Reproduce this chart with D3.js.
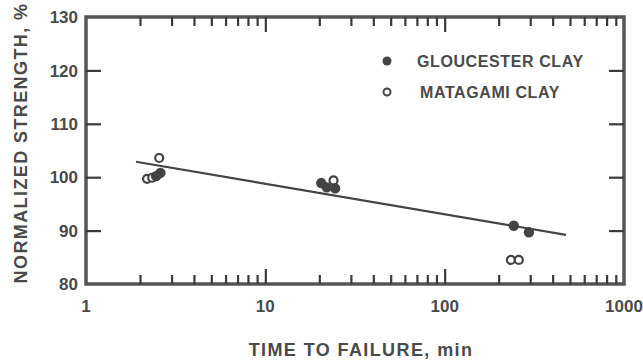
<!DOCTYPE html>
<html>
<head>
<meta charset="utf-8">
<script src="https://cdn.jsdelivr.net/npm/d3@7"></script>
<style>
  body { margin: 0; background: #fff; }
  text { font-family: "Liberation Sans", Arial, sans-serif; font-weight: bold; fill: #4a4a4a; }
</style>
</head>
<body>
<div id="chart"></div>
<script>
// time to failure (min) and normalized strength (%)
const glouTime = [2.46, 2.6, 20.5, 22, 24.5, 243, 295];
const glouStrength = [100.2, 100.8, 98.9, 98.1, 97.9, 90.9, 89.7];
const mataTime = [2.19, 2.34, 2.56, 24, 234, 259];
const mataStrength = [99.7, 99.9, 103.6, 99.4, 84.5, 84.5];
// fitted trend line end points
const fitTime = [1.9, 475];
const fitStrength = [102.9, 89.2];

const yTicks = [80, 90, 100, 110, 120, 130];
const xTicks = [1, 10, 100, 1000];
const minorTicks = [2, 3, 4, 5, 6, 7, 8, 9, 20, 30, 40, 50, 60, 70, 80, 90, 200, 300, 400, 500, 600, 700, 800, 900];
const majorTicks = [10, 100];

const W = 643, H = 363;
const margin = { top: 17, right: 19, bottom: 79, left: 86 };
const ink = "#444";

const svg = d3.select("#chart").append("svg")
    .attr("width", W)
    .attr("height", H);

const x = d3.scaleLog()
    .domain([1, 1000])
    .range([margin.left, W - margin.right]);

const y = d3.scaleLinear()
    .domain([80, 130])
    .range([H - margin.bottom, margin.top]);

// frame
svg.append("rect")
    .attr("x", x(1))
    .attr("y", y(130))
    .attr("width", x(1000) - x(1))
    .attr("height", y(80) - y(130))
    .attr("fill", "none")
    .attr("stroke", "#555")
    .attr("stroke-width", 3.5);

// inside ticks: minor + major on the log axis (top and bottom), majors on y (both sides)
const topAxis = d3.axisBottom(x).tickValues(minorTicks).tickSize(9).tickFormat("");
const botAxis = d3.axisTop(x).tickValues(minorTicks).tickSize(9).tickFormat("");
const topMajor = d3.axisBottom(x).tickValues(majorTicks).tickSize(15).tickFormat("");
const botMajor = d3.axisTop(x).tickValues(majorTicks).tickSize(15).tickFormat("");
const leftAxis = d3.axisRight(y).tickValues([90, 100, 110, 120]).tickSize(15).tickFormat("");
const rightAxis = d3.axisLeft(y).tickValues([90, 100, 110, 120]).tickSize(15).tickFormat("");

[[topAxis, 0, y(130)], [botAxis, 0, y(80)], [topMajor, 0, y(130)], [botMajor, 0, y(80)],
 [leftAxis, x(1), 0], [rightAxis, x(1000), 0]].forEach(a => {
    const g = svg.append("g")
        .attr("transform", "translate(" + a[1] + "," + a[2] + ")")
        .call(a[0]);
    g.select(".domain").remove();
    g.selectAll("line").attr("stroke", "#3a3a3a").attr("stroke-width", 2.2);
});

// tick labels
svg.append("g").selectAll("text")
    .data(yTicks)
    .join("text")
    .attr("x", x(1) - 8)
    .attr("y", d => y(d))
    .attr("dy", "0.36em")
    .attr("text-anchor", "end")
    .style("font-size", "17px")
    .text(d => d);

svg.append("g").selectAll("text")
    .data(xTicks)
    .join("text")
    .attr("x", d => x(d))
    .attr("y", y(80) + 28)
    .attr("text-anchor", "middle")
    .style("font-size", "17px")
    .text(d => d);

// axis titles
svg.append("text")
    .attr("x", 361)
    .attr("y", 356)
    .attr("text-anchor", "middle")
    .style("font-size", "18px")
    .style("letter-spacing", "1.4px")
    .text("TIME TO FAILURE, min");

svg.append("text")
    .attr("transform", "translate(27," + 143 + ") rotate(-90)")
    .attr("text-anchor", "middle")
    .style("font-size", "18px")
    .style("letter-spacing", "1.4px")
    .text("NORMALIZED STRENGTH, %");

// trend line
svg.append("line")
    .attr("x1", x(fitTime[0])).attr("y1", y(fitStrength[0]))
    .attr("x2", x(fitTime[1])).attr("y2", y(fitStrength[1]))
    .attr("stroke", ink)
    .attr("stroke-width", 2.2);

// data points
const glou = glouTime.map((t, i) => ({ t: t, s: glouStrength[i] }));
const mata = mataTime.map((t, i) => ({ t: t, s: mataStrength[i] }));

svg.append("g").selectAll("circle")
    .data(mata)
    .join("circle")
    .attr("cx", d => x(d.t))
    .attr("cy", d => y(d.s))
    .attr("r", 4)
    .attr("fill", "#fff")
    .attr("stroke", ink)
    .attr("stroke-width", 2.2);

svg.append("g").selectAll("circle")
    .data(glou)
    .join("circle")
    .attr("cx", d => x(d.t))
    .attr("cy", d => y(d.s))
    .attr("r", 5.2)
    .attr("fill", ink);

// legend
svg.append("circle").attr("cx", 387).attr("cy", 61).attr("r", 4.5).attr("fill", ink);
svg.append("text").attr("x", 417).attr("y", 61).attr("dy", "0.36em")
    .style("font-size", "16px").style("letter-spacing", "0.6px").text("GLOUCESTER CLAY");
svg.append("circle").attr("cx", 387).attr("cy", 92).attr("r", 3.5)
    .attr("fill", "#fff").attr("stroke", ink).attr("stroke-width", 2);
svg.append("text").attr("x", 420).attr("y", 92).attr("dy", "0.36em")
    .style("font-size", "16px").style("letter-spacing", "0.6px").text("MATAGAMI CLAY");
</script>
</body>
</html>
